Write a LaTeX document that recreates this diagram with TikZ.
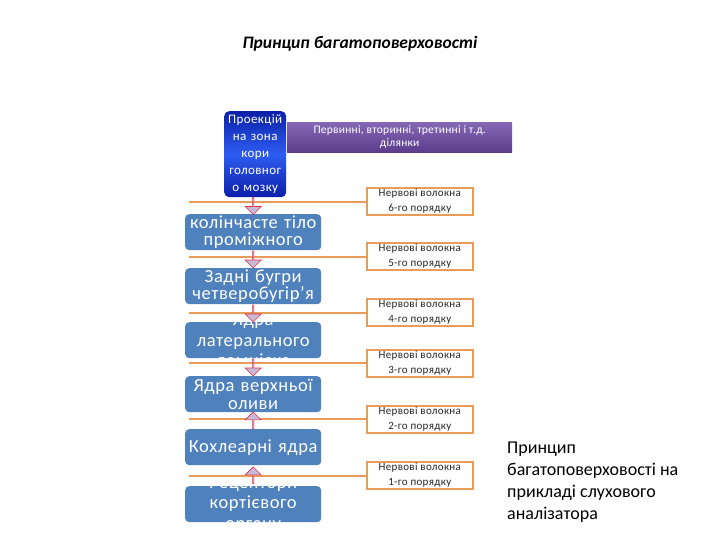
\documentclass[tikz,border=0pt]{standalone}
\usepackage{fontspec}
\setmainfont{Carlito}
\usetikzlibrary{shapes.arrows,calc}
\definecolor{boxblue}{HTML}{4F81BD}
\definecolor{fibre}{HTML}{E89C58}
\definecolor{deepblue}{HTML}{0B1FA8}
\definecolor{brightblue}{HTML}{2E5CF2}
\definecolor{purpletop}{HTML}{8667B6}
\definecolor{purplebot}{HTML}{5B3D8C}
\definecolor{arrowfill}{HTML}{C8B8DA}
\definecolor{arrowline}{HTML}{E03040}
\begin{document}
\begin{tikzpicture}[x=1pt,y=-1pt,
  lbox/.style={fill=boxblue, rounded corners=4pt, minimum width=136pt, minimum height=36pt,
    text width=136pt, text=white, align=center, inner sep=0pt, anchor=north west,
    font=\fontsize{18.5}{17.5}\selectfont\addfontfeature{LetterSpace=3}},
  tallbox/.style={lbox, path picture={\node[text=white, align=center, inner sep=0pt,
    anchor=center, text width=136pt, rounded corners=0pt,
    font=\fontsize{18.5}{20.5}\selectfont\addfontfeature{LetterSpace=3}]
    at (path picture bounding box.center) {#1};}},
  rbox/.style={draw=fibre, line width=1.6pt, fill=white, minimum width=106pt, minimum height=27pt,
    align=center, inner sep=0pt, anchor=north west, text=black!85,
    font=\fontsize{11}{15}\selectfont\addfontfeature{LetterSpace=3}},
  link/.style={draw=fibre, line width=1.8pt},
  blockarrow/.style={single arrow, draw=arrowline, fill=arrowfill, line width=0.6pt,
    minimum height=17pt, minimum width=16pt, single arrow head extend=3.5pt, inner sep=0pt}
]
\useasboundingbox (0,0) rectangle (720,540);

% title
\node[font=\fontsize{17.5}{19}\selectfont\itshape\bfseries] (title) at (360,44) {Принцип багатоповерховості};

% right boxes and links
\node[rbox] (r6) at (366,187) {Нервові волокна\\6-го порядку};
\node[rbox] (r5) at (366,242) {Нервові волокна\\5-го порядку};
\node[rbox] (r4) at (366,298) {Нервові волокна\\4-го порядку};
\node[rbox] (r3) at (366,349) {Нервові волокна\\3-го порядку};
\node[rbox] (r2) at (366,405) {Нервові волокна\\2-го порядку};
\node[rbox] (r1) at (366,461) {Нервові волокна\\1-го порядку};

\foreach \n/\yy in {6/202,5/257,4/313,3/363,2/419,1/476}{
  \coordinate (s\n) at (189,\yy);
  \draw[link] (s\n) -- (s\n -| r\n.west);
}

% purple bar
\node[top color=purpletop, bottom color=purplebot, minimum width=225pt, minimum height=30pt,
  anchor=north west, inner sep=0pt, text=white, align=center,
  font=\fontsize{11.5}{13}\selectfont\addfontfeature{LetterSpace=2}] (bar) at (287,122)
  {Первинні, вторинні, третинні і т.д.\\ділянки};

% top box
\node[top color=deepblue, bottom color=deepblue, middle color=brightblue, rounded corners=5pt,
  minimum width=62pt, minimum height=86pt, text width=62pt, inner sep=0pt, anchor=north west,
  text=white, align=center, font=\fontsize{13}{17}\selectfont\addfontfeature{LetterSpace=3}] (top) at (224,111)
  {Проекцій\\на зона\\кори\\головног\\о мозку};

% left column
\node[lbox] (b1) at (185,214) {колінчасте тіло\\проміжного};
\node[lbox] (b2) at (185,268) {Задні бугри\\четверобугір'я};
\node[tallbox={Ядра\\латерального\\лемніска}] (b3) at (185,322) {};
\node[lbox] (b4) at (185,376) {Ядра верхньої\\оливи};
\node[lbox] (b5) at (185,429) {Кохлеарні ядра};
\node[tallbox={Рецептори\\кортієвого\\органу}] (b6) at (185,486) {};

% arrows
\node[blockarrow, shape border rotate=270] (a1) at ($(b1.north)!0.5!(b1.north |- top.south)$) {};
\node[blockarrow, shape border rotate=270] (a2) at ($(b1.south)!0.5!(b2.north)$) {};
\node[blockarrow, shape border rotate=270] (a3) at ($(b2.south)!0.5!(b3.north)$) {};
\node[blockarrow, shape border rotate=270] (a4) at ($(b3.south)!0.5!(b4.north)$) {};
\node[blockarrow, shape border rotate=90] (a5) at ($(b4.south)!0.5!(b5.north)$) {};
\node[blockarrow, shape border rotate=90] (a6) at ($(b5.south)!0.5!(b6.north)$) {};

% side caption
\node[anchor=north west, align=left, inner sep=0pt, text=black,
  font=\fontsize{18}{22}\selectfont] (caption) at (507,442)
  {Принцип\\багатоповерховості на\\прикладі слухового\\аналізатора};
\end{tikzpicture}
\end{document}
